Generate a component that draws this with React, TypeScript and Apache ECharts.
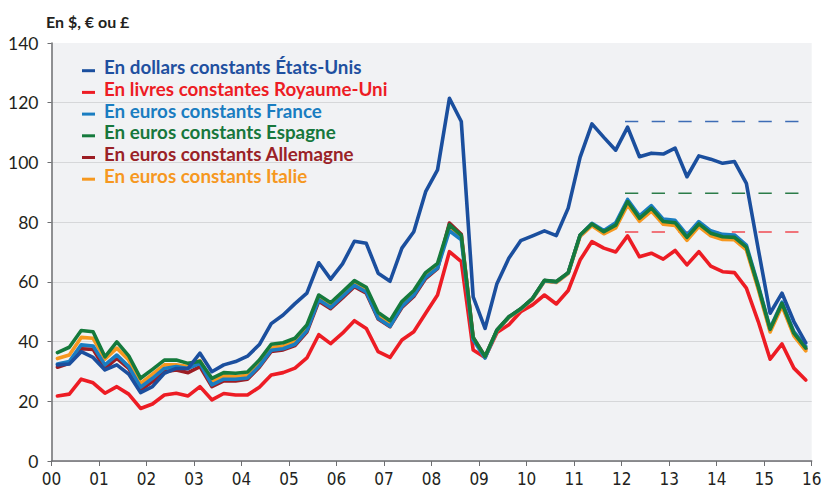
import React, { useEffect, useRef } from "react";
import * as echarts from "echarts";

// Quarterly observations, 2000 Q1 .. 2015 Q4
const years = [2000, 2001, 2002, 2003, 2004, 2005, 2006, 2007, 2008, 2009, 2010, 2011, 2012, 2013, 2014, 2015];
const quarters = [1, 2, 3, 4];

const etatsUnis = [
  32.2, 32.5, 36.6, 34.7, 30.5, 32.2, 29.1, 22.9, 24.9, 29.4, 31.0, 31.0, 36.1, 29.9, 32.2, 33.3,
  35.1, 39.0, 46.0, 48.9, 52.7, 56.2, 66.4, 60.9, 66.0, 73.6, 72.9, 62.9, 60.2, 71.3, 76.8, 90.2,
  97.5, 121.5, 113.7, 55.0, 44.4, 59.4, 67.9, 73.8, 75.4, 77.1, 75.5, 84.7, 101.7, 112.9, 108.4, 104.1,
  111.8, 101.9, 103.1, 102.8, 104.8, 95.2, 102.2, 101.1, 99.7, 100.3, 93.0, 71.0, 49.5, 56.2, 46.7, 39.6,
];
const royaumeUni = [
  21.8, 22.4, 27.4, 26.2, 22.7, 24.9, 22.4, 17.6, 19.1, 22.1, 22.7, 21.8, 24.9, 20.5, 22.6, 22.1,
  22.1, 24.7, 28.8, 29.6, 31.1, 34.5, 42.3, 39.3, 42.8, 47.0, 44.4, 36.6, 34.7, 40.5, 43.3, 49.5,
  55.6, 70.1, 66.8, 37.2, 34.7, 43.0, 45.6, 50.0, 52.3, 55.6, 52.6, 57.1, 67.3, 73.5, 71.3, 70.0,
  75.4, 68.4, 69.6, 67.6, 70.5, 65.7, 70.1, 65.3, 63.4, 63.1, 57.9, 46.7, 34.1, 39.2, 31.1, 27.1,
];
const france = [
  32.5, 33.3, 38.9, 38.5, 32.2, 35.5, 31.6, 24.7, 27.7, 31.0, 31.6, 31.0, 32.7, 25.5, 27.4, 27.4,
  27.8, 31.8, 37.1, 37.6, 39.1, 43.6, 54.0, 51.4, 55.1, 58.8, 56.6, 47.8, 45.1, 51.8, 55.5, 61.5,
  64.6, 77.1, 74.1, 40.6, 34.5, 43.8, 48.2, 50.9, 54.4, 60.4, 60.0, 63.0, 75.6, 79.6, 77.2, 79.8,
  87.6, 82.1, 85.5, 81.0, 80.6, 75.7, 80.2, 77.1, 75.9, 75.7, 72.3, 58.9, 44.5, 53.2, 43.3, 38.4,
];
const espagne = [
  36.3, 38.1, 43.7, 43.3, 34.9, 39.9, 35.2, 27.7, 30.7, 33.8, 33.8, 32.7, 33.4, 27.7, 29.6, 29.4,
  29.8, 33.8, 39.1, 39.6, 41.1, 45.6, 55.6, 53.0, 56.7, 60.4, 58.2, 49.7, 47.0, 53.4, 57.1, 63.1,
  66.2, 79.1, 75.6, 41.4, 35.0, 43.9, 48.3, 51.0, 54.5, 60.5, 60.1, 63.1, 75.7, 79.4, 76.8, 79.0,
  86.9, 81.3, 84.7, 80.2, 79.8, 74.9, 79.4, 76.3, 75.1, 74.9, 71.6, 58.4, 44.1, 52.8, 42.8, 37.8,
];
const allemagne = [
  31.4, 32.7, 37.6, 37.4, 31.0, 34.4, 31.0, 23.8, 26.6, 29.9, 30.5, 29.6, 31.6, 24.9, 26.8, 26.8,
  27.4, 31.4, 36.7, 37.2, 38.7, 43.2, 53.5, 51.0, 54.6, 58.4, 56.2, 47.6, 45.0, 51.4, 55.1, 61.1,
  64.4, 79.7, 75.9, 41.4, 34.9, 43.8, 48.2, 50.9, 54.4, 60.4, 60.0, 63.0, 75.5, 79.2, 76.5, 78.7,
  86.6, 81.0, 84.5, 80.5, 80.1, 74.6, 79.1, 76.0, 74.9, 75.2, 71.3, 58.1, 43.8, 52.5, 42.5, 37.5,
];
const italie = [
  34.3, 35.5, 41.4, 41.1, 34.1, 37.8, 33.8, 26.0, 29.1, 32.2, 32.2, 31.6, 33.6, 26.6, 28.5, 28.2,
  28.7, 32.7, 38.0, 38.5, 40.0, 44.5, 54.8, 52.2, 55.9, 59.6, 57.4, 48.9, 46.2, 52.6, 56.3, 62.3,
  65.4, 78.6, 75.2, 41.0, 34.7, 43.6, 48.0, 50.7, 54.2, 60.2, 59.8, 62.8, 75.2, 78.8, 76.1, 78.1,
  85.8, 80.3, 83.7, 79.3, 78.9, 73.9, 78.5, 75.4, 74.2, 74.1, 70.7, 57.5, 43.2, 51.9, 41.9, 36.9,
];

const legendNames = [
  "En dollars constants États-Unis",
  "En livres constantes Royaume-Uni",
  "En euros constants France",
  "En euros constants Espagne",
  "En euros constants Allemagne",
  "En euros constants Italie",
];
const lineColors = ["#1b4f9e", "#ed1c24", "#1a7dc1", "#157a3c", "#9c1d23", "#f6981f"];
const legendColors = ["#1f50a0", "#ed1c24", "#1a7dc1", "#17773c", "#9a2227", "#f6981f"];

// Average levels since 2012 (dashed lines)
const refStart = 12.07;
const refEnd = 16;
const refLevels = [113.7, 89.7, 76.7];
const refColors = ["#3d6cb5", "#2b7c48", "#ef4b51"];

const yTicks = [0, 20, 40, 60, 80, 100, 120, 140];

export default function App() {
  const ref = useRef<HTMLDivElement>(null);
  useEffect(() => {
    if (!ref.current) return;
    const chart = echarts.init(ref.current, null, { renderer: "svg" });
    const xs: number[] = [];
    years.forEach((y, yi) => quarters.forEach((q) => xs.push(yi + (q - 0.5) / 4)));
    const toPairs = (vals: number[]) => vals.map((v, i) => [xs[i], v]);
    const allSeries = [etatsUnis, royaumeUni, france, espagne, allemagne, italie];
    // draw order: UK, Germany, Italy, France, Spain, US
    const order = [1, 4, 5, 2, 3, 0];
    const lineSeries = order.map((k, zi) => ({
      type: "line",
      name: legendNames[k],
      data: toPairs(allSeries[k]),
      showSymbol: false,
      symbol: "none",
      z: 3 + zi,
      lineStyle: { color: lineColors[k], width: 3.6, join: "round", cap: "round" },
    }));
    const refSeries = refLevels.map((lv, i) => ({
      type: "line",
      data: [[refStart, lv], [refEnd, lv]],
      showSymbol: false,
      symbol: "none",
      z: 2,
      lineStyle: { color: refColors[i], width: 1.4, type: [13.3, 13.4] },
    }));

    const rowTop = 66.7;
    const rowGap = 21.7;
    const legendGraphics: any[] = [];
    legendNames.forEach((name, i) => {
      const cy = rowTop + rowGap * i;
      legendGraphics.push({
        type: "rect",
        shape: { x: 82, y: cy + 2.5, width: 13, height: 3 },
        style: { fill: lineColors[i] },
        z: 100,
      });
      legendGraphics.push({
        type: "text",
        x: 104,
        y: cy,
        style: {
          text: name,
          fill: legendColors[i],
          font: "bold 18.8px Lato, 'Open Sans', sans-serif",
          textVerticalAlign: "middle",
        },
        z: 100,
      });
    });

    chart.setOption({
      animation: false,
      backgroundColor: "#ffffff",
      grid: {
        left: 51.5,
        right: 15.3,
        top: 43,
        bottom: 32,
        show: true,
        backgroundColor: "#f1f2f4",
        borderWidth: 0,
      },
      xAxis: {
        type: "value",
        min: 0,
        max: 16,
        interval: 1,
        axisLine: { show: true, lineStyle: { color: "#6d6e71", width: 1.5 } },
        axisTick: { show: true, length: 5, lineStyle: { color: "#6d6e71", width: 1 } },
        axisLabel: {
          margin: 9,
          color: "#231f20",
          fontSize: 17,
          fontFamily: "'Liberation Sans Narrow', 'DejaVu Sans Condensed', Lato, sans-serif",
          formatter: (v: number) => String(years[0] % 100 + v).padStart(2, "0"),
        },
        splitLine: { show: false },
      },
      yAxis: {
        type: "value",
        min: yTicks[0],
        max: yTicks[yTicks.length - 1],
        interval: 20,
        axisLine: { show: true, lineStyle: { color: "#6d6e71", width: 1.5 } },
        axisTick: { show: true, length: 4, lineStyle: { color: "#6d6e71", width: 1 } },
        axisLabel: {
          margin: 13,
          color: "#231f20",
          fontSize: 17.5,
          padding: [0, 0, 6, 0],
          fontFamily: "Lato, 'Open Sans', sans-serif",
        },
        splitLine: { show: true, showMaxLine: false, lineStyle: { color: "#d6d7d9", width: 1.2 } },
      },
      graphic: [
        {
          type: "text",
          x: 46,
          y: 21,
          style: {
            text: "En $, € ou £",
            fill: "#231f20",
            font: "bold 16px Lato, 'Open Sans', sans-serif",
            textVerticalAlign: "middle",
          },
        },
        ...legendGraphics,
      ],
      series: [...refSeries, ...lineSeries],
    });
    return () => chart.dispose();
  }, []);
  return (
    <div
      ref={ref}
      style={{ position: "absolute", left: 0, top: 0, width: 827, height: 493 }}
    />
  );
}
